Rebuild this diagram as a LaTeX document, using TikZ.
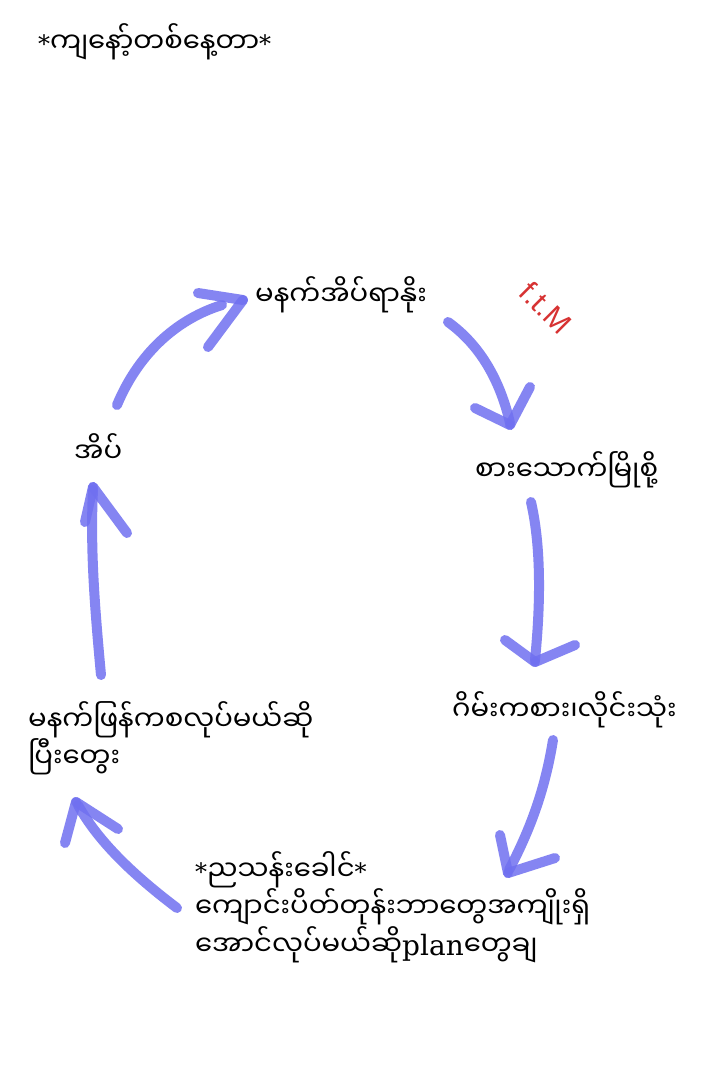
\documentclass[tikz,border=0pt]{standalone}
\usepackage{fontspec}
\newfontfamily\mya[Script=Myanmar]{Noto Sans Myanmar UI}
\newfontfamily\lat{DejaVu Serif}
\newfontfamily\fsans{Liberation Sans}
\definecolor{pen}{RGB}{112,112,240}
\definecolor{ftm}{RGB}{215,50,50}
\begin{document}
\begin{tikzpicture}[x=1pt,y=-1pt,
  txt/.style={inner sep=0pt, anchor=west, align=left, font=\mya\fontsize{27.5}{36}\selectfont},
  stroke/.style={draw=pen, line width=10pt, line cap=round, line join=round, opacity=0.85}]
\fill[white] (0,0) rectangle (720,1088);
\useasboundingbox (0,0) rectangle (720,1088);
% texts
\node[txt] (title) at (38,42) {{\lat\fontsize{24}{30}\selectfont *}ကျနော့်တစ်နေ့တာ{\lat\fontsize{24}{30}\selectfont *}};
\node[txt] (wake) at (255,295) {မနက်အိပ်ရာနိုး};
\node[rotate=-45, text=ftm, font=\fsans\fontsize{30}{34}\selectfont, inner sep=0pt] (ftm) at (546,308) {f.t.M};
\node[txt] (sleep) at (74,448) {အိပ်};
\node[txt] (eat) at (475,470) {စားသောက်မြိုစို့};
\node[txt] (game) at (452,710) {ဂိမ်းကစား၊လိုင်းသုံး};
\node[txt] (think) at (28,738) {မနက်ဖြန်ကစလုပ်မယ်ဆို\\ပြီးတွေး};
\node[txt] (night) at (195,907) {{\lat\fontsize{24}{30}\selectfont *}ညသန်းခေါင်{\lat\fontsize{24}{30}\selectfont *}\\ကျောင်းပိတ်တုန်းဘာတွေအကျိုးရှိ\\အောင်လုပ်မယ်ဆို{\lat\fontsize{28}{30}\selectfont plan}တွေချ};
% arrow 1: sleep -> wake
\draw[stroke] (117,405) .. controls (140,350) and (180,318) .. (222,305);
\draw[stroke] (198,293) -- (243,300);
\draw[stroke] (243,300) -- (208,347);
% arrow 2: wake -> eat
\draw[stroke] (448,322) .. controls (480,345) and (500,380) .. (510,423);
\draw[stroke] (475,408) -- (510,425);
\draw[stroke] (530,387) -- (510,425);
% arrow 3: eat -> game
\draw[stroke] (531,502) .. controls (542,550) and (540,610) .. (535,660);
\draw[stroke] (505,640) -- (535,662);
\draw[stroke] (575,645) -- (535,662);
% arrow 4: game -> night
\draw[stroke] (553,740) .. controls (545,790) and (530,830) .. (509,870);
\draw[stroke] (500,835) -- (508,873);
\draw[stroke] (555,858) -- (508,873);
% arrow 5: night -> think
\draw[stroke] (177,908) .. controls (140,880) and (100,845) .. (78,805);
\draw[stroke] (65,843) -- (76,802);
\draw[stroke] (118,829) -- (76,802);
% arrow 6: think -> sleep
\draw[stroke] (101,675) .. controls (95,610) and (90,550) .. (93,490);
\draw[stroke] (85,522) -- (93,487);
\draw[stroke] (127,533) -- (93,487);
\end{tikzpicture}
\end{document}
